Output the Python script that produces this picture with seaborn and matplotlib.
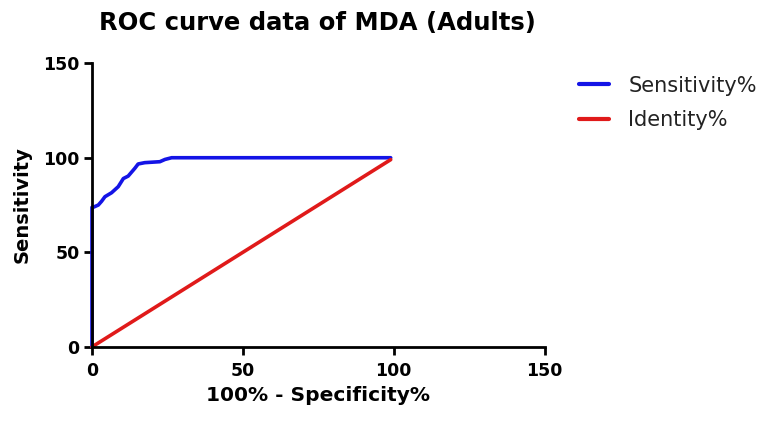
import matplotlib
matplotlib.use('Agg')
import matplotlib.pyplot as plt
import seaborn as sns
import pandas as pd

# ROC curve points (100% - specificity, sensitivity)
fpr = [0, 0, 0.4, 2.1, 3.2, 4.3, 6.5, 8.7, 10.4, 12.0, 14.2, 15.3, 17.5, 22.5, 24.2, 26.4, 99]
sens = [0, 73.8, 73.8, 75.0, 77.0, 79.4, 81.5, 84.7, 89.0, 90.3, 94.4, 96.7, 97.4, 97.9, 99.1, 100, 100]
identity_x = [0, 99]
identity_y = [0, 99]

series_names = ['Sensitivity%', 'Identity%']
series_colors = ['#1414e6', '#e01a1a']

df = pd.concat([
    pd.DataFrame({'x': fpr, 'y': sens, 'series': series_names[0]}),
    pd.DataFrame({'x': identity_x, 'y': identity_y, 'series': series_names[1]}),
], ignore_index=True)

sns.set_style('ticks')
plt.rcParams['font.family'] = ['DejaVu Sans']
plt.rcParams['text.color'] = 'black'
plt.rcParams['axes.labelcolor'] = 'black'
plt.rcParams['xtick.color'] = 'black'
plt.rcParams['ytick.color'] = 'black'

fig = plt.figure(figsize=(7.62, 4.21), dpi=100)
ax = fig.add_axes([0.1207, 0.176, 0.594, 0.674])

sns.lineplot(data=df, x='x', y='y', hue='series', palette=dict(zip(series_names, series_colors)),
             sort=False, estimator=None, linewidth=2.6, ax=ax, legend=True)
for ln in ax.lines:
    ln.set_clip_on(False)

ax.set_xlim(0, 150)
ax.set_ylim(0, 150)
ax.set_xticks([0, 50, 100, 150])
ax.set_yticks([0, 50, 100, 150])
sns.despine(ax=ax)
for s in ['left', 'bottom']:
    ax.spines[s].set_linewidth(2)
    ax.spines[s].set_color('black')
ax.tick_params(width=2, length=6, color='black', labelsize=12.5, pad=3)
ax.tick_params(axis='x', pad=5)
for lab in ax.get_xticklabels() + ax.get_yticklabels():
    lab.set_fontweight('bold')

ax.set_xlabel('100% - Specificity%', fontsize=14.5, fontweight='bold', labelpad=4)
ax.set_ylabel('Sensitivity', fontsize=14, fontweight='bold', labelpad=8)
fig.text(0.416, 0.945, 'ROC curve data of MDA (Adults)', fontsize=17.5, fontweight='bold',
         ha='center', va='center')

handles, labels = ax.get_legend_handles_labels()
leg = ax.legend(handles, labels, loc='upper left', bbox_to_anchor=(1.035, 1.022), frameon=False,
                fontsize=15, handlelength=1.45, handletextpad=0.9, labelspacing=0.7)
for t in leg.get_texts():
    t.set_color('#222222')
for h in leg.get_lines():
    h.set_linewidth(3)

fig.savefig('out.png', dpi=100)
plt.close(fig)
